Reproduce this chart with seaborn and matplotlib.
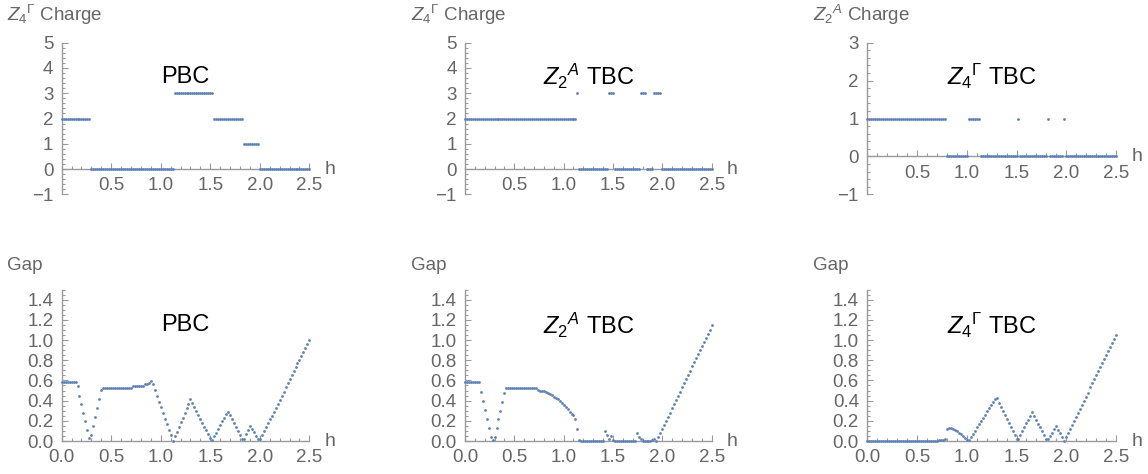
import numpy as np
import pandas as pd
import seaborn as sns
import matplotlib.pyplot as plt
from matplotlib.ticker import MultipleLocator

# h grid, step 0.02 from 0 to 2.5 (126 points)
h = np.round(np.arange(0, 2.5001, 0.02), 2)

# charges, stored as (value, number of consecutive h points)
charge_pbc = [(2, 15), (0, 42), (3, 20), (2, 15), (1, 8), (0, 26)]
charge_z2a = [(2, 57), (3, 1), (0, 15), (3, 3), (0, 13), (3, 3), (0, 4), (3, 4), (0, 26)]
charge_z4g = [(1, 40), (0, 11), (1, 6), (0, 19), (1, 1), (0, 14), (1, 1), (0, 7), (1, 1), (0, 26)]

# gaps, one value per h point
gap_pbc = [
    .58, .58, .58, .58, .58, .58, .58, .58, .54, .45,
    .37, .28, .20, .11, .03, .06, .15, .24, .33, .42,
    .51, .52, .52, .52, .52, .52, .52, .52, .52, .52,
    .52, .52, .52, .52, .52, .52, .54, .54, .54, .54,
    .54, .54, .56, .56, .57, .59, .56, .51, .45, .39,
    .34, .28, .22, .17, .11, .06, .00, .05, .09, .14,
    .19, .23, .28, .33, .37, .42, .38, .34, .30, .26,
    .22, .18, .14, .11, .07, .03, .01, .05, .08, .12,
    .16, .20, .23, .27, .29, .26, .22, .18, .14, .10,
    .06, .02, .02, .07, .11, .15, .12, .09, .05, .02,
    .02, .06, .10, .14, .18, .22, .25, .29, .33, .37,
    .41, .45, .49, .53, .57, .61, .65, .69, .73, .77,
    .80, .84, .88, .92, .96, 1.00]
gap_z2a = [
    .58, .58, .58, .58, .58, .58, .58, .58, .49, .40,
    .31, .22, .13, .04, .01, .04, .13, .22, .30, .39,
    .48, .52, .52, .52, .52, .52, .52, .52, .52, .52,
    .52, .52, .52, .52, .52, .52, .52, .51, .50, .50,
    .50, .49, .48, .47, .46, .44, .43, .42, .40, .38,
    .36, .34, .32, .29, .27, .26, .22, .12, .01, .00,
    .00, .00, .00, .00, .00, .00, .00, .00, .00, .00,
    .00, .10, .06, .02, .05, .01, .00, .00, .00, .00,
    .00, .00, .00, .00, .00, .00, .00, .08, .04, .02,
    .00, .00, .00, .00, .00, .01, .02, .00, .04, .08,
    .12, .16, .20, .24, .28, .33, .37, .41, .45, .49,
    .53, .57, .61, .65, .69, .74, .78, .82, .86, .90,
    .94, .98, 1.02, 1.06, 1.10, 1.15]
gap_z4g = [
    0, 0, 0, 0, 0, 0, 0, 0, 0, 0,
    0, 0, 0, 0, 0, 0, 0, 0, 0, 0,
    0, 0, 0, 0, 0, 0, 0, 0, 0, 0,
    0, 0, 0, 0, 0, 0, .01, .01, .01, .02,
    .12, .13, .13, .12, .11, .10, .08, .07, .05, .03,
    .01, .01, .04, .07, .10, .14, .17, .20, .23, .26,
    .30, .33, .36, .39, .42, .43, .38, .34, .30, .26,
    .22, .18, .14, .10, .06, .02, .02, .06, .10, .14,
    .18, .21, .25, .29, .25, .21, .17, .14, .10, .06,
    .02, .02, .05, .08, .12, .15, .11, .08, .04, .00,
    .04, .08, .12, .16, .20, .24, .28, .32, .36, .40,
    .44, .48, .53, .57, .61, .65, .69, .73, .77, .81,
    .85, .89, .93, .97, 1.01, 1.05]

titles = ["PBC", r"$Z_2{}^{A}$ TBC", r"$Z_4{}^{\Gamma}$ TBC"]
charge_labels = [r"$Z_4{}^{\Gamma}$ Charge", r"$Z_4{}^{\Gamma}$ Charge", r"$Z_2{}^{A}$ Charge"]
charge_ylims = [(-1, 5), (-1, 5), (-1, 3)]

sns.set_style("white")
plt.rcParams["font.family"] = ["Liberation Sans", "DejaVu Sans"]
plt.rcParams["mathtext.fontset"] = "custom"
plt.rcParams["mathtext.rm"] = "Liberation Sans"
plt.rcParams["mathtext.it"] = "Liberation Sans:italic"

blue = "#5E81B5"
axis_gray = "#9a9a9a"
text_gray = "#666666"

fig = plt.figure(figsize=(11.48, 4.74), dpi=100)
lefts = [0.0537, 0.405, 0.7555]
widths = [0.2158, 0.2149, 0.2166]


def style_axes(ax, ylim, ymajor, yminor, ylabel, show_x0):
    ax.set_xlim(0, 2.5)
    ax.set_ylim(*ylim)
    for s in ["top", "right"]:
        ax.spines[s].set_visible(False)
    ax.spines["left"].set_position(("data", 0))
    ax.spines["bottom"].set_position(("data", 0))
    for s in ["left", "bottom"]:
        ax.spines[s].set_color(axis_gray)
        ax.spines[s].set_linewidth(1.0)
    ax.xaxis.set_major_locator(MultipleLocator(0.5))
    ax.xaxis.set_minor_locator(MultipleLocator(0.1))
    ax.yaxis.set_major_locator(MultipleLocator(ymajor))
    ax.yaxis.set_minor_locator(MultipleLocator(yminor))
    ax.tick_params(which="both", direction="in", colors=axis_gray,
                   labelcolor=text_gray, labelsize=13.5, width=0.8,
                   bottom=True, left=True, top=False, right=False)
    ax.tick_params(which="major", length=4.5)
    ax.tick_params(which="minor", length=2.5)
    ax.tick_params(axis="x", pad=6)
    ax.tick_params(axis="y", pad=6)
    if ymajor == 1:
        ax.set_yticks(np.arange(ylim[0], ylim[1] + 1, 1))
        ax.set_yticklabels([str(v).replace("-", "\u2212") for v in range(ylim[0], ylim[1] + 1)])
    else:
        ax.set_yticks(np.round(np.arange(0, 1.41, 0.2), 1))
        ax.set_yticklabels([f"{v:.1f}" for v in np.arange(0, 1.41, 0.2)])
    xt = [0.0, 0.5, 1.0, 1.5, 2.0, 2.5] if show_x0 else [0.5, 1.0, 1.5, 2.0, 2.5]
    ax.set_xticks(xt)
    ax.set_xticklabels([f"{v:.1f}" for v in xt])
    ax.set_xlabel("")
    ax.set_ylabel("")
    ax.text(1.062, 0, "h", transform=ax.get_yaxis_transform(), color=text_gray,
            fontsize=14, ha="left", va="center")
    ax.text(-0.22, 1.10, ylabel, transform=ax.transAxes, color=text_gray,
            fontsize=13.5, ha="left", va="bottom")


charges = [charge_pbc, charge_z2a, charge_z4g]
gaps = [gap_pbc, gap_z2a, gap_z4g]

for i in range(3):
    runs = charges[i]
    q = np.repeat([v for v, n in runs], [n for v, n in runs])
    df_c = pd.DataFrame({"h": h, "q": q})
    ax = fig.add_axes([lefts[i], 0.590, widths[i], 0.320])
    sns.scatterplot(data=df_c, x="h", y="q", ax=ax, s=4, color=blue,
                    linewidth=0, clip_on=False, zorder=3)
    style_axes(ax, charge_ylims[i], 1, 0.2, charge_labels[i], False)
    ax.text(0.5, 0.775, titles[i], transform=ax.transAxes, fontsize=17,
            ha="center", va="center", color="black")

    df_g = pd.DataFrame({"h": h, "gap": gaps[i]})
    ax2 = fig.add_axes([lefts[i], 0.0696, widths[i], 0.3196])
    sns.scatterplot(data=df_g, x="h", y="gap", ax=ax2, s=4, color=blue,
                    linewidth=0, clip_on=False, zorder=3)
    style_axes(ax2, (0, 1.5), 0.2, 0.05, "Gap", True)
    ax2.text(0.5, 0.766, titles[i], transform=ax2.transAxes, fontsize=17,
             ha="center", va="center", color="black")

fig.savefig("out.png", dpi=100)
